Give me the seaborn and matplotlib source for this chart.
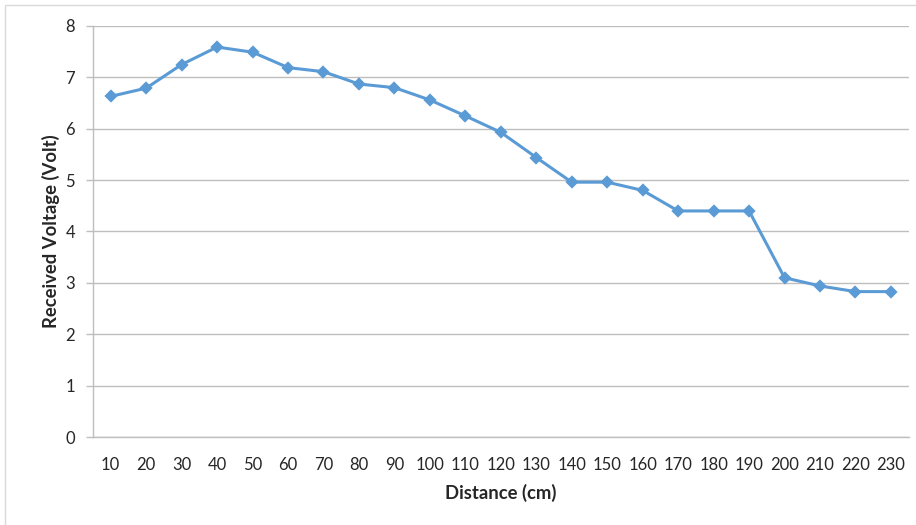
import numpy as np
import pandas as pd
import seaborn as sns
from matplotlib import pyplot as plt
from matplotlib.patches import Rectangle

# values
distance = [10, 20, 30, 40, 50, 60, 70, 80, 90, 100, 110, 120,
            130, 140, 150, 160, 170, 180, 190, 200, 210, 220, 230]
voltage = [6.63, 6.79, 7.25, 7.59, 7.49, 7.19, 7.11, 6.87, 6.80, 6.56, 6.25, 5.93,
           5.44, 4.96, 4.96, 4.80, 4.40, 4.40, 4.40, 3.10, 2.94, 2.83, 2.83]
y_ticks = [0, 1, 2, 3, 4, 5, 6, 7, 8]

line_color = '#5B9BD5'
grid_color = '#BEBEBE'

sns.set_style('white')
plt.rcParams['font.family'] = ['Lato', 'DejaVu Sans']

df = pd.DataFrame({'Distance (cm)': [str(d) for d in distance],
                   'Received Voltage (Volt)': voltage})

fig = plt.figure(figsize=(9.16, 5.25), dpi=100)
ax = fig.add_axes([0.1015, 0.1676, 0.8905, 0.7829])

sns.pointplot(data=df, x='Distance (cm)', y='Received Voltage (Volt)',
              color=line_color, marker='D', markersize=5, linewidth=2.2, ax=ax)

ax.set_xlim(-0.5, len(distance) - 0.5)
ax.set_ylim(0, 8)
ax.set_yticks(y_ticks)
ax.yaxis.grid(True, color=grid_color, linewidth=1)
ax.xaxis.grid(False)
ax.set_axisbelow(True)

for side in ['top', 'right']:
    ax.spines[side].set_visible(False)
for side in ['left', 'bottom']:
    ax.spines[side].set_color(grid_color)
    ax.spines[side].set_linewidth(1)

ax.tick_params(axis='y', which='major', left=True, length=5, width=1,
               color=grid_color, labelsize=12, pad=8)
ax.tick_params(axis='x', which='major', bottom=False, labelsize=12, pad=11)

ax.set_xlabel('Distance (cm)', fontsize=13.3, fontweight='bold', labelpad=8)
ax.set_ylabel('Received Voltage (Volt)', fontsize=13.3, fontweight='bold', labelpad=4)

# light frame around the chart area, as in the source
fig.patches.append(Rectangle((5 / 916, -0.1), 1.1, 1.1 - 5 / 525,
                             transform=fig.transFigure, fill=False,
                             edgecolor='#D9D9D9', linewidth=1))

fig.savefig('out.png', dpi=100)
plt.close()
